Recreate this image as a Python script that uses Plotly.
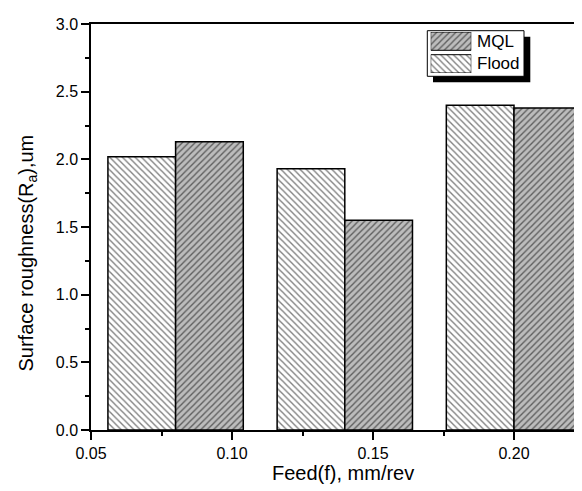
import plotly.graph_objects as go

# Data
feed = [0.08, 0.14, 0.20]
flood = [2.02, 1.93, 2.40]
mql = [2.13, 1.55, 2.38]
bar_width = 0.024
x_title = "Feed(f), mm/rev"
y_title = "Surface roughness(R<sub>a</sub>),um"
legend_names = ["MQL", "Flood"]

W, H = 582, 491
L, R, T, B = 83, 0, 16, 69
PW, PH = W - L - R, H - T - B

def px(x):
    return (x - L) / PW

def py(y):
    return (H - B - y) / PH

FONT = "Liberation Sans, Arial, sans-serif"

flood_pat = dict(shape="\\", fgcolor="black", bgcolor="white", size=4.5, solidity=0.3)
mql_pat = dict(shape="/", fgcolor="black", bgcolor="#bcbcbc", size=4.5, solidity=0.3)

fig = go.Figure()
fig.add_trace(go.Bar(
    x=[f - bar_width / 2 for f in feed], y=flood, width=bar_width, name=legend_names[1],
    marker=dict(color="white", pattern=flood_pat, line=dict(color="black", width=1.5)),
    showlegend=False,
))
fig.add_trace(go.Bar(
    x=[f + bar_width / 2 for f in feed], y=mql, width=bar_width, name=legend_names[0],
    marker=dict(color="#bcbcbc", pattern=mql_pat, line=dict(color="black", width=1.5)),
    showlegend=False,
))

# legend swatches on an inset axis
sw_w = 0.806
fig.add_trace(go.Bar(
    x=[1], y=[1], base=0, orientation="h", width=sw_w, xaxis="x2", yaxis="y2",
    marker=dict(color="#bcbcbc", pattern=mql_pat, line=dict(color="black", width=1)),
    showlegend=False, hoverinfo="skip",
))
fig.add_trace(go.Bar(
    x=[1], y=[0], base=0, orientation="h", width=sw_w, xaxis="x2", yaxis="y2",
    marker=dict(color="white", pattern=flood_pat, line=dict(color="black", width=1)),
    showlegend=False, hoverinfo="skip",
))

shapes = [
    dict(type="rect", xref="paper", yref="paper", x0=px(425), x1=px(522.3), y0=py(74.3), y1=py(28.7),
         fillcolor="black", line=dict(width=0), layer="below"),
    dict(type="rect", xref="paper", yref="paper", x0=px(419.3), x1=px(516), y0=py(68.3), y1=py(22.7),
         fillcolor="white", line=dict(color="black", width=1), layer="below"),
]

annotations = [
    dict(text=legend_names[0], x=px(467), y=py(33.2), xref="paper", yref="paper",
         xanchor="left", yanchor="middle", showarrow=False, font=dict(size=17, color="black", family=FONT)),
    dict(text=legend_names[1], x=px(467), y=py(55.9), xref="paper", yref="paper",
         xanchor="left", yanchor="middle", showarrow=False, font=dict(size=17, color="black", family=FONT)),
    dict(text=x_title, x=px(335), y=py(465), xref="paper", yref="paper",
         xanchor="center", yanchor="middle", showarrow=False, font=dict(size=20, color="black", family=FONT)),
    dict(text=y_title, x=px(18.5), y=py(245), xref="paper", yref="paper", textangle=-90,
         xanchor="center", yanchor="middle", showarrow=False, font=dict(size=20, color="black", family=FONT)),
]

fig.update_layout(
    width=W, height=H,
    margin=dict(l=L, r=R, t=T, b=B),
    paper_bgcolor="white", plot_bgcolor="rgba(0,0,0,0)",
    font=dict(family=FONT, size=16, color="black"),
    barmode="overlay",
    shapes=shapes, annotations=annotations,
    xaxis=dict(
        range=[0.05, 0.05 + PW / 141 * 0.05], tick0=0.05, dtick=0.05, tickformat=".2f",
        showline=True, linecolor="black", linewidth=1.5, mirror=True,
        ticks="outside", ticklen=8, tickwidth=1.5, tickcolor="black",
        minor=dict(ticks="outside", ticklen=4, tickwidth=1.5, tickcolor="black", dtick=0.025, tick0=0.05),
        showgrid=False, zeroline=False,
    ),
    yaxis=dict(
        range=[0, 3], tick0=0, dtick=0.5, tickformat=".1f",
        showline=True, linecolor="black", linewidth=1.5, mirror=False,
        ticks="outside", ticklen=8, tickwidth=1.5, tickcolor="black",
        minor=dict(ticks="outside", ticklen=4, tickwidth=1.5, tickcolor="black", dtick=0.25, tick0=0),
        showgrid=False, zeroline=False,
    ),
    xaxis2=dict(domain=[px(422.7), px(463.3)], range=[0, 1], anchor="y2", visible=False, fixedrange=True),
    yaxis2=dict(domain=[py(65), py(24)], range=[-0.403, 1.403], anchor="x2", visible=False, fixedrange=True),
)

fig.write_html("out.html")
